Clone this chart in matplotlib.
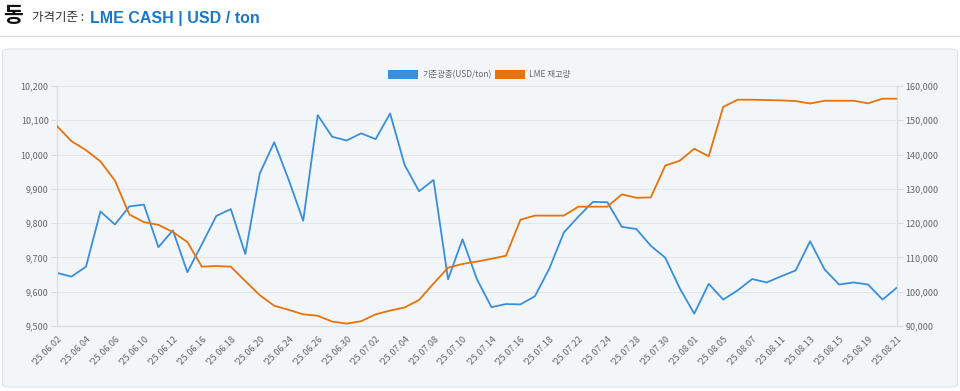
import matplotlib
matplotlib.use("Agg")
import matplotlib.pyplot as plt
import matplotlib.transforms as mtransforms
from matplotlib.patches import FancyBboxPatch, Rectangle
from matplotlib.ticker import FuncFormatter, MultipleLocator

plt.rcParams["font.family"] = ["Noto Sans CJK KR", "DejaVu Sans"]

# ── data ─────────────────────────────────────────────────────────────
dates = (
    ["'25.06." + d for d in ["02", "03", "04", "05", "06", "09", "10", "11", "12", "13",
                             "16", "17", "18", "19", "20", "23", "24", "25", "26", "27", "30"]]
    + ["'25.07." + d for d in ["01", "02", "03", "04", "07", "08", "09", "10", "11", "14",
                               "15", "16", "17", "18", "21", "22", "23", "24", "25", "28",
                               "29", "30", "31"]]
    + ["'25.08." + d for d in ["01", "04", "05", "06", "07", "08", "11", "12", "13", "14",
                               "15", "18", "19", "20", "21"]]
)

price = [9655, 9644, 9673, 9834, 9796, 9849, 9854, 9730, 9779, 9657,
         9738, 9821, 9841, 9710, 9945, 10036, 9926, 9807, 10115, 10052,
         10041, 10062, 10045, 10120, 9970, 9893, 9926, 9636, 9753, 9636,
         9555, 9564, 9563, 9587, 9668, 9773, 9819, 9862, 9861, 9789,
         9783, 9734, 9699, 9610, 9536, 9623, 9577, 9604, 9637, 9627,
         9645, 9662, 9747, 9665, 9621, 9627, 9621, 9577, 9612]

stock = [148300, 143900, 141300, 138000, 132400, 122500, 120300, 119500, 117400, 114500,
         107300, 107500, 107300, 103100, 99000, 95900, 94700, 93400, 93000, 91300,
         90700, 91400, 93400, 94500, 95400, 97600, 102400, 107000, 108100, 108800,
         109600, 110500, 121000, 122200, 122200, 122200, 124800, 124800, 124800, 128400,
         127400, 127500, 136800, 138200, 141700, 139500, 153900, 156000, 156000, 155900,
         155800, 155600, 154900, 155700, 155700, 155700, 154950, 156300, 156300]

BLUE = "#3a8fdc"
ORANGE = "#e8720c"
GREY = "#666666"

fig = plt.figure(figsize=(9.6, 3.91), dpi=100)
W, H = 960, 391

# ── header ───────────────────────────────────────────────────────────
fig.text(3 / W, 1 - 16 / H, "동", fontsize=15.5, fontweight="bold", color="#111111",
         va="center", ha="left")
fig.text(32 / W, 1 - 18 / H, "가격기준 :", fontsize=9, color="#333333",
         va="center", ha="left")
fig.text(90 / W, 1 - 18 / H, "LME CASH | USD / ton", fontsize=11.5, fontweight="bold",
         color="#1a78c8", va="center", ha="left",
         family=["Liberation Sans", "DejaVu Sans"])
fig.add_artist(plt.Line2D([0, 1], [1 - 36 / H, 1 - 36 / H], color="#dddddd", lw=1,
                          transform=fig.transFigure))

# ── panel background ─────────────────────────────────────────────────
panel = FancyBboxPatch((2.5 / W, 1 - 387 / H), 955 / W, 338 / H,
                       boxstyle="round,pad=0,rounding_size=0.008",
                       transform=fig.transFigure, facecolor="#f3f6f9",
                       edgecolor="#e2e6ea", lw=1, zorder=0)
fig.add_artist(panel)

# ── axes ─────────────────────────────────────────────────────────────
ax = fig.add_axes([57 / W, 1 - 326 / H, (897 - 57) / W, 240 / H])
ax.set_facecolor("none")
ax2 = ax.twinx()

x = list(range(len(dates)))
ax.plot(x, price, color=BLUE, lw=1.3, zorder=3)
ax2.plot(x, stock, color=ORANGE, lw=1.3, zorder=3)

ax.set_xlim(0, len(dates) - 1)
ax.set_ylim(9500, 10200)
ax2.set_ylim(90000, 160000)
ax.yaxis.set_major_locator(MultipleLocator(100))
ax2.yaxis.set_major_locator(MultipleLocator(10000))
ax.yaxis.set_major_formatter(FuncFormatter(lambda v, p: f"{v:,.0f}"))
ax2.yaxis.set_major_formatter(FuncFormatter(lambda v, p: f"{v:,.0f}"))
ax.grid(axis="y", color="#e3e7eb", lw=0.8)
ax.set_axisbelow(True)

ax.set_xticks(x[::2])
ax.set_xticklabels(dates[::2], rotation=45, ha="right", rotation_mode="anchor",
                   fontsize=6.5, color=GREY)
shift = mtransforms.ScaledTranslation(5 / 100, -1 / 100, fig.dpi_scale_trans)
for lbl in ax.get_xticklabels():
    lbl.set_transform(lbl.get_transform() + shift)

for a in (ax, ax2):
    for s in a.spines.values():
        s.set_color("#d9dde1")
        s.set_linewidth(0.8)
    a.spines["top"].set_visible(False)
    a.tick_params(axis="both", colors="#d9dde1", labelcolor=GREY, labelsize=6.5,
                  length=4, width=0.8, pad=2)
ax.tick_params(axis="x", length=0, pad=6)

# ── legend ───────────────────────────────────────────────────────────
items = [(388, BLUE, "기준광종(USD/ton)"), (495, ORANGE, "LME 재고량")]
for px, col, label in items:
    fig.add_artist(Rectangle((px / W, 1 - 79 / H), 30 / W, 9 / H, facecolor=col,
                             edgecolor="none", transform=fig.transFigure))
    fig.text((px + 34) / W, 1 - 74.5 / H, label, fontsize=6, color=GREY,
             va="center", ha="left")

fig.savefig("out.png", dpi=100)
